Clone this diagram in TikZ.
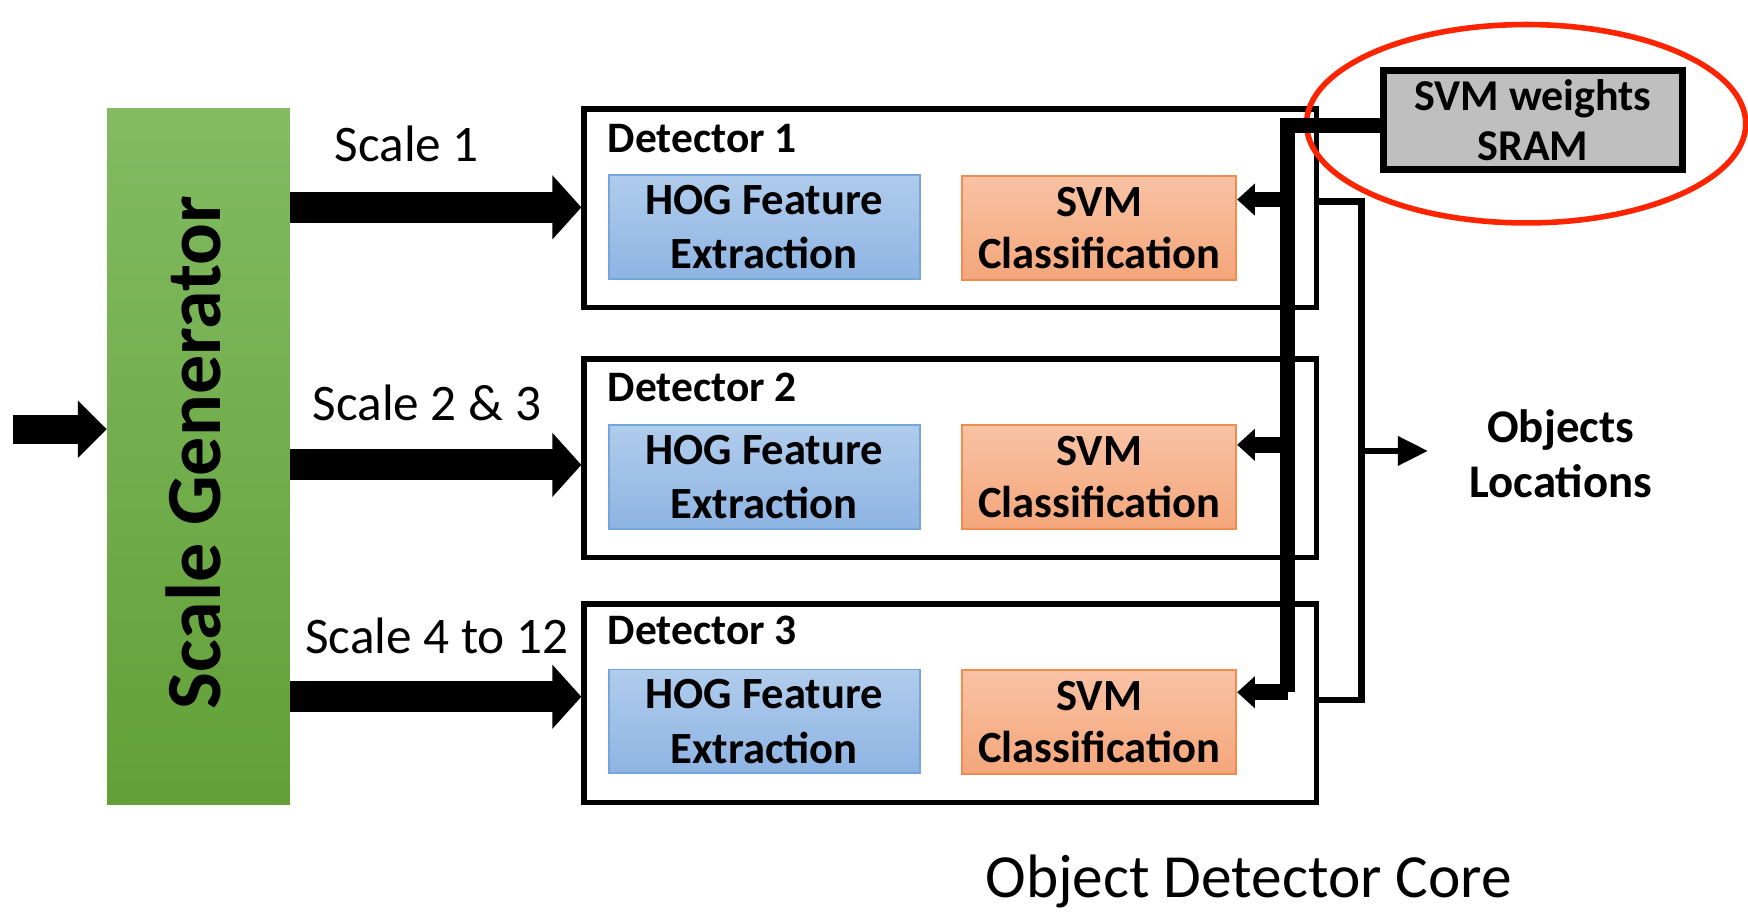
\documentclass[tikz,border=0pt]{standalone}
\usepackage{fontspec}
\setmainfont{Carlito}
\usetikzlibrary{arrows.meta,shapes.geometric}

\definecolor{genTop}{RGB}{130,187,98}
\definecolor{genBot}{RGB}{98,160,55}
\definecolor{hogTop}{RGB}{176,204,236}
\definecolor{hogBot}{RGB}{142,180,227}
\definecolor{hogEdge}{RGB}{118,164,220}
\definecolor{svmTop}{RGB}{248,194,164}
\definecolor{svmBot}{RGB}{244,166,122}
\definecolor{svmEdge}{RGB}{240,140,80}
\definecolor{sramFill}{RGB}{191,191,191}
\definecolor{markRed}{RGB}{255,36,0}

\tikzset{
  genbox/.style={rectangle, inner sep=0pt, minimum width=164pt, minimum height=625pt,
    top color=genTop, bottom color=genBot},
  detbox/.style={rectangle, draw, line width=5pt, minimum width=657pt, minimum height=178pt},
  hogbox/.style={rectangle, draw=hogEdge, line width=1.5pt, top color=hogTop, bottom color=hogBot,
    minimum width=279pt, minimum height=93pt, inner sep=0pt, align=center,
    font=\bfseries\fontsize{40}{49}\selectfont},
  svmbox/.style={rectangle, draw=svmEdge, line width=1.5pt, top color=svmTop, bottom color=svmBot,
    minimum width=246pt, minimum height=93pt, inner sep=0pt, align=center,
    font=\bfseries\fontsize{40}{47}\selectfont},
  srambox/.style={rectangle, draw, line width=6pt, fill=sramFill, minimum width=268pt,
    minimum height=89pt, inner sep=0pt, align=center, font=\bfseries\fontsize{39.5}{45}\selectfont},
  scalelabel/.style={anchor=base, inner sep=0pt, font=\fontsize{46}{50}\selectfont},
  detlabel/.style={anchor=base west, inner sep=0pt, font=\bfseries\fontsize{39}{44}\selectfont},
  fatarrow/.style={line width=28pt, -{Triangle[width=56pt,length=26pt]}},
  inarrow/.style={line width=26pt, -{Triangle[width=50pt,length=26pt]}},
  busline/.style={line width=14pt, line join=miter},
  busarrow/.style={line width=14pt, -{Triangle[width=28pt,length=16pt]}},
  thinline/.style={line width=6pt, line join=miter},
  outarrow/.style={line width=6pt, -{Triangle[width=25pt,length=27pt]}},
}

\begin{document}
\begin{tikzpicture}[x=1pt,y=-1pt]
  \useasboundingbox (0,0) rectangle (1568,818);

  % scale generator
  \node[genbox] (gen) at (178,409.5) {};
  \node[rotate=90, anchor=base, inner sep=0pt, font=\bfseries\fontsize{70}{72}\selectfont]
    (genlabel) at (198,406) {Scale Generator};

  % input
  \coordinate (in) at (12,385);
  \draw[inarrow] (in) -- (in -| gen.west);

  % detectors
  \node[detbox] (d1) at (852.5,187) {};
  \node[detbox] (d2) at (852.5,411) {};
  \node[detbox] (d3) at (852.5,631) {};
  \node[detlabel] (d1lab) at (545,136.5) {Detector 1};
  \node[detlabel] (d2lab) at (545,360.5) {Detector 2};
  \node[detlabel] (d3lab) at (545,578) {Detector 3};

  \node[hogbox] (hog1) at (685.5,203.5) {HOG Feature\\Extraction};
  \node[hogbox] (hog2) at (685.5,428) {HOG Feature\\Extraction};
  \node[hogbox] (hog3) at (685.5,647) {HOG Feature\\Extraction};

  \node[svmbox] (svm1) at (986,204.5) {SVM\\Classification};
  \node[svmbox] (svm2) at (986,428) {SVM\\Classification};
  \node[svmbox] (svm3) at (986,647.5) {SVM\\Classification};

  % scale outputs
  \coordinate (s1) at (260,186);
  \coordinate (s2) at (260,417);
  \coordinate (s3) at (260,625);
  \draw[fatarrow] (s1 -| gen.east) -- (s1 -| d1.west);
  \draw[fatarrow] (s2 -| gen.east) -- (s2 -| d2.west);
  \draw[fatarrow] (s3 -| gen.east) -- (s3 -| d3.west);
  \node[scalelabel] (l1) at (365,145) {Scale 1};
  \node[scalelabel] (l2) at (383,377) {Scale 2 \& 3};
  \node[scalelabel] (l3) at (392,586) {Scale 4 to 12};

  % weight memory and its bus
  \node[srambox] (sram) at (1375,107.5) {SVM weights\\SRAM};
  \node[draw=markRed, line width=5pt, ellipse, inner sep=0pt,
    minimum width=394pt, minimum height=178pt] (mark) at (1369,111) {};

  \coordinate (bt) at (1155,112.5);
  \coordinate (bb) at (1155,621);
  \coordinate (b1) at (1155,179);
  \coordinate (b2) at (1155,399);
  \draw[busline] (bt -| sram.west) -- (bt) -- (bb);
  \draw[busarrow] (bb) -- (bb -| svm3.east);
  \draw[busarrow] (b1) -- (b1 -| svm1.east);
  \draw[busarrow] (b2) -- (b2 -| svm2.east);

  % collected results
  \coordinate (o1) at (1221,181);
  \coordinate (o3) at (1221,628);
  \coordinate (om) at (1221,404.5);
  \coordinate (out) at (1281,404.5);
  \draw[thinline] (o1 -| d1.east) -- (o1) -- (o3) -- (o3 -| d3.east);
  \draw[outarrow] (om) -- (out);
  \node[align=center, inner sep=0pt, font=\bfseries\fontsize{42}{50}\selectfont]
    (objs) at (1400,407) {Objects\\Locations};

  \node[anchor=base, inner sep=0pt, font=\fontsize{55}{60}\selectfont]
    (core) at (1120,805) {Object Detector Core};
\end{tikzpicture}
\end{document}
